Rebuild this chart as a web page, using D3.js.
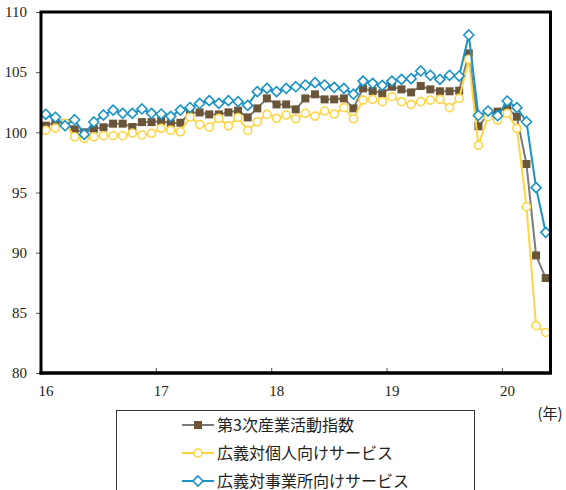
<!DOCTYPE html>
<html>
<head>
<meta charset="utf-8">
<script src="https://cdn.jsdelivr.net/npm/d3@7"></script>
<style>
  body { margin: 0; background: #fff; }
  svg { display: block; }
</style>
</head>
<body>
<svg id="chart" width="566" height="490"></svg>
<script>
// Monthly categories, Jan 2016 – May 2020
const years = [2016, 2017, 2018, 2019, 2020];
const lastMonth2020 = 5;
const months = [];
years.forEach(yr => {
  const end = yr === 2020 ? lastMonth2020 : 12;
  for (let m = 1; m <= end; m++) months.push(`${yr}-${String(m).padStart(2, "0")}`);
});

const yearLabels = ["16", "17", "18", "19", "20"];
const yTicks = [80, 85, 90, 95, 100, 105, 110];
const seriesNames = ["第3次産業活動指数", "広義対個人向けサービス", "広義対事業所向けサービス"];

// 第3次産業活動指数
const tertiary = [
  100.55, 100.85, 100.75, 100.25, 100.0, 100.3, 100.42, 100.72, 100.72, 100.44, 100.85, 100.85,
  100.95, 100.75, 100.8, 101.63, 101.65, 101.49, 101.49, 101.66, 101.8, 101.24, 101.99, 102.82,
  102.32, 102.32, 101.91, 102.82, 103.16, 102.74, 102.74, 102.82, 101.99, 103.65, 103.43, 103.24,
  103.79, 103.57, 103.32, 103.85, 103.57, 103.41, 103.41, 103.46, 106.56, 100.5, 101.5, 101.72,
  102.0, 101.3, 97.37, 89.77, 87.89
];
// 広義対個人向けサービス
const personal = [
  100.17, 100.35, 100.75, 99.63, 99.48, 99.63, 99.72, 99.72, 99.72, 99.94, 99.78, 99.92,
  100.33, 100.18, 100.05, 101.27, 100.65, 100.44, 101.16, 100.54, 101.23, 100.16, 100.88, 101.49,
  101.16, 101.44, 101.13, 101.58, 101.35, 101.77, 101.52, 102.05, 101.13, 102.68, 102.74, 102.55,
  102.96, 102.55, 102.32, 102.55, 102.68, 102.74, 102.05, 102.82, 106.07, 98.92, 101.3, 101.02,
  101.58, 100.33, 93.82, 83.93, 83.37
];
// 広義対事業所向けサービス
const business = [
  101.5, 101.25, 100.55, 101.05, 99.83, 100.86, 101.44, 101.85, 101.58, 101.58, 101.94, 101.58,
  101.52, 101.33, 101.85, 102.06, 102.4, 102.63, 102.41, 102.63, 102.55, 102.24, 103.38, 103.65,
  103.38, 103.65, 103.79, 103.93, 104.13, 103.93, 103.74, 103.65, 103.18, 104.26, 104.07, 103.9,
  104.26, 104.4, 104.46, 105.1, 104.74, 104.4, 104.74, 104.68, 108.09, 101.4, 101.77, 101.38,
  102.6, 102.05, 100.88, 95.4, 91.69
];

(function () {
  const svg = d3.select("#chart");
  const pL = 41, pR = 550.5, pT = 12, pB = 373;
  const numFont = "'Liberation Serif', 'DejaVu Serif', serif";
  const jpFont = "'Noto Sans CJK JP', 'Noto Sans', sans-serif";

  const x = d3.scaleBand().domain(months).range([pL, pR]).padding(0);
  const y = d3.scaleLinear().domain([80, 110]).range([pB, pT]);
  const cx = d => x(d) + x.bandwidth() / 2;

  const series = [
    { name: seriesNames[0], values: tertiary, line: "#7a7a7a", marker: "square", mColor: "#6b5538", fill: "#6b5538" },
    { name: seriesNames[1], values: personal, line: "#ffd445", marker: "circle", mColor: "#ffd445", fill: "#ffffff" },
    { name: seriesNames[2], values: business, line: "#1b93c6", marker: "diamond", mColor: "#1b93c6", fill: "#ffffff" }
  ];

  function drawMarker(g, kind, color, fill) {
    if (kind === "square") {
      g.append("rect").attr("x", -4).attr("y", -4).attr("width", 8).attr("height", 8).attr("fill", fill);
    } else if (kind === "circle") {
      g.append("circle").attr("r", 4).attr("fill", fill).attr("stroke", color).attr("stroke-width", 1.6);
    } else {
      g.append("path").attr("d", "M0,-5L5,0L0,5L-5,0Z").attr("fill", fill).attr("stroke", color).attr("stroke-width", 1.6);
    }
  }

  // Y axis (outward ticks)
  const yAxis = d3.axisLeft(y).tickValues(yTicks).tickSize(5).tickPadding(9).tickFormat(d3.format("d"));
  const gy = svg.append("g").attr("transform", `translate(${pL},0)`).call(yAxis);
  gy.select(".domain").remove();
  gy.selectAll(".tick line").attr("stroke", "#555").attr("stroke-width", 1);
  gy.selectAll(".tick text").attr("font-family", numFont).attr("font-size", 15).attr("fill", "#222");

  // X axis: year ticks at each January, pointing inward
  const jan = yearLabels.map((lab, i) => ({ lab, m: `${years[i]}-01` }));
  const gx = svg.append("g");
  gx.selectAll("line").data(jan).join("line")
    .attr("x1", d => x(d.m)).attr("x2", d => x(d.m))
    .attr("y1", pB).attr("y2", pB - 5)
    .attr("stroke", "#555").attr("stroke-width", 1);
  gx.selectAll("text").data(jan).join("text")
    .attr("x", d => x(d.m) + 5).attr("y", 396)
    .attr("text-anchor", "middle")
    .attr("font-family", numFont).attr("font-size", 15).attr("fill", "#222")
    .text(d => d.lab);
  svg.append("text").attr("x", 550).attr("y", 419).attr("text-anchor", "middle")
    .attr("font-family", jpFont).attr("font-size", 15).attr("fill", "#222").text("(年)");

  // Series lines and markers
  series.forEach(s => {
    const pts = months.map((m, i) => [cx(m), y(s.values[i])]);
    svg.append("path").attr("d", d3.line()(pts))
      .attr("fill", "none").attr("stroke", s.line).attr("stroke-width", 2).attr("stroke-linejoin", "round");
    const mg = svg.append("g");
    pts.forEach(p => {
      const g = mg.append("g").attr("transform", `translate(${p[0]},${p[1]})`);
      drawMarker(g, s.marker, s.mColor, s.fill);
    });
  });

  // Plot frame
  svg.append("line").attr("x1", pL - 1.5).attr("x2", pR + 1.5).attr("y1", pT).attr("y2", pT).attr("stroke", "#000").attr("stroke-width", 3);
  svg.append("line").attr("x1", pR).attr("x2", pR).attr("y1", pT).attr("y2", pB).attr("stroke", "#000").attr("stroke-width", 3);
  svg.append("line").attr("x1", pL).attr("x2", pL).attr("y1", pT).attr("y2", pB + 1.5).attr("stroke", "#000").attr("stroke-width", 3);
  svg.append("line").attr("x1", pL - 1.5).attr("x2", pR + 1.5).attr("y1", pB).attr("y2", pB).attr("stroke", "#000").attr("stroke-width", 3.5);

  // Legend
  const lg = svg.append("g");
  lg.append("rect").attr("x", 116.5).attr("y", 410.5).attr("width", 358).attr("height", 100)
    .attr("fill", "#fff").attr("stroke", "#333").attr("stroke-width", 1);
  series.forEach((s, i) => {
    const ry = 425 + i * 28;
    lg.append("line").attr("x1", 182).attr("x2", 214).attr("y1", ry).attr("y2", ry)
      .attr("stroke", s.line).attr("stroke-width", 2);
    const g = lg.append("g").attr("transform", `translate(198,${ry})`);
    drawMarker(g, s.marker, s.mColor, s.fill);
    lg.append("text").attr("x", 217).attr("y", ry + 5.5)
      .attr("font-family", jpFont).attr("font-size", 16).attr("fill", "#222").text(s.name);
  });
})();
</script>
</body>
</html>
